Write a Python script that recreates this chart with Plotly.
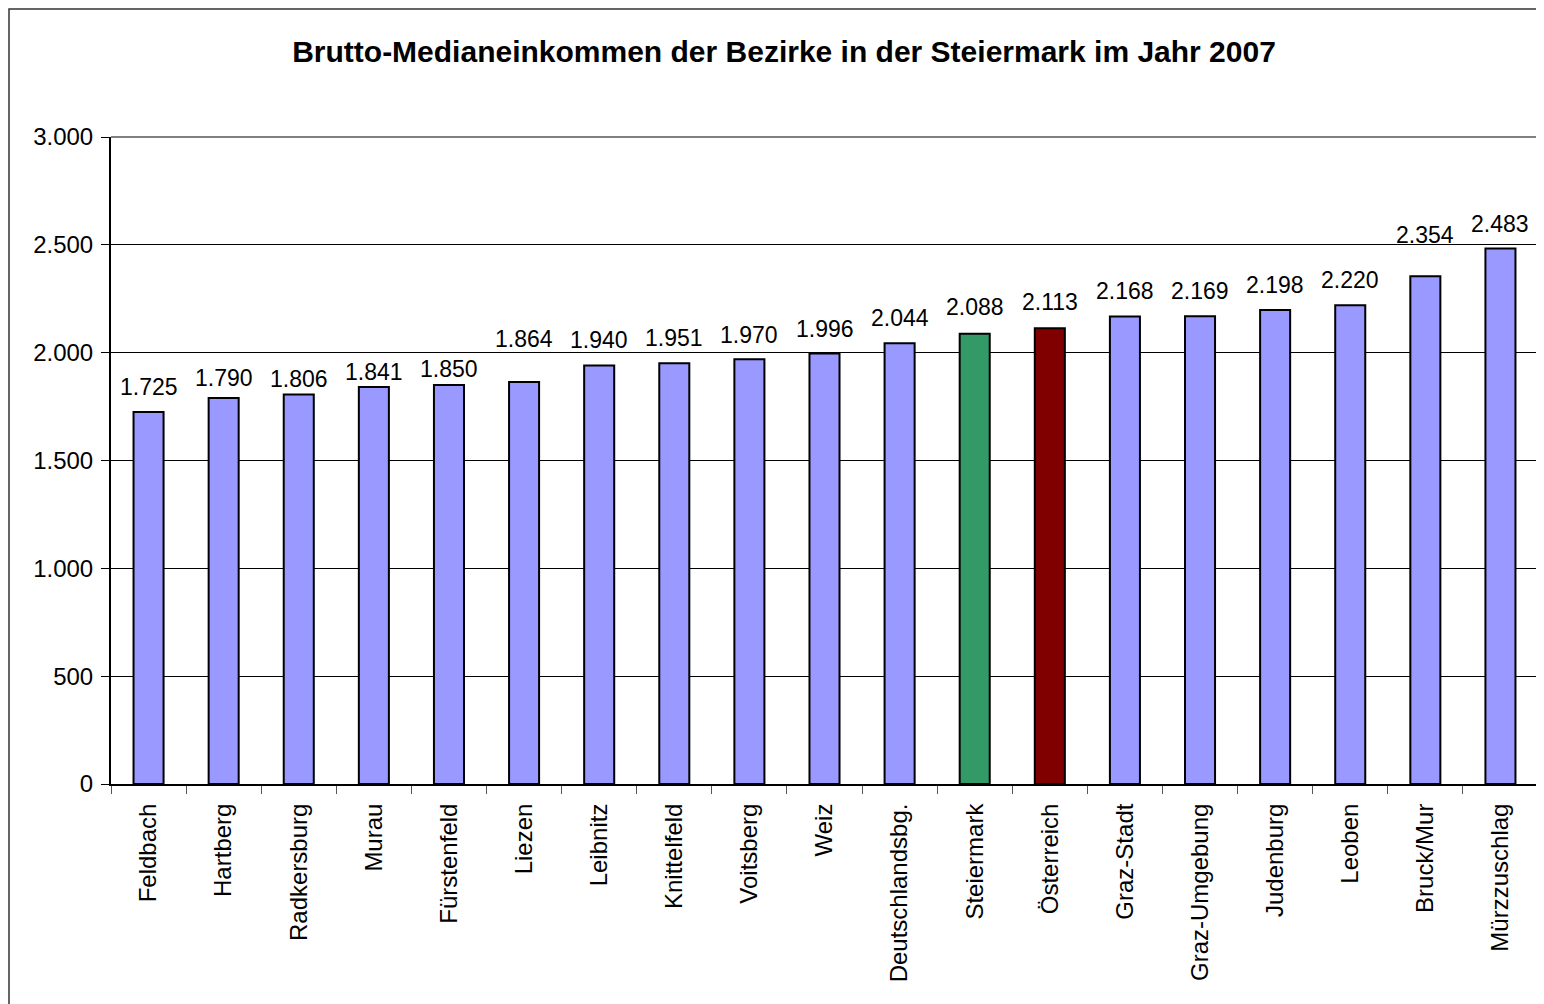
import plotly.graph_objects as go

# Bezirke und Werte (Brutto-Medianeinkommen 2007)
bezirke = ['Feldbach', 'Hartberg', 'Radkersburg', 'Murau', 'Fürstenfeld', 'Liezen',
           'Leibnitz', 'Knittelfeld', 'Voitsberg', 'Weiz', 'Deutschlandsbg.',
           'Steiermark', 'Österreich', 'Graz-Stadt', 'Graz-Umgebung', 'Judenburg',
           'Leoben', 'Bruck/Mur', 'Mürzzuschlag']
einkommen = [1725, 1790, 1806, 1841, 1850, 1864, 1940, 1951, 1970, 1996, 2044,
             2088, 2113, 2168, 2169, 2198, 2220, 2354, 2483]
y_ticks = [0, 500, 1000, 1500, 2000, 2500, 3000]

BAR = '#9999FF'
SPECIAL = {'Steiermark': '#339966', 'Österreich': '#800000'}
colors = [SPECIAL.get(b, BAR) for b in bezirke]

# label offsets above bar top (px), mimicking the Excel placement
label_shift = [25, 20, 16, 15, 16, 43, 26, 25, 24, 25, 25, 27, 26, 25, 25, 25, 25, 41, 25]

FONT = 'Liberation Sans, Arial, sans-serif'

# the page body adds an 8px margin, so the figure is a bit smaller than the window
W, H = 1536, 996
L, R, T, B = 103, 6, 129, 220
PW, PH = W - L - R, H - T - B

fig = go.Figure()
fig.add_bar(
    x=bezirke,
    y=einkommen,
    marker=dict(color=colors, line=dict(color='black', width=2)),
    width=0.4,
    hoverinfo='x+y',
)


def fmt(v):
    return f'{v:,}'.replace(',', '.')


for b, v, s in zip(bezirke, einkommen, label_shift):
    fig.add_annotation(x=b, y=v, text=fmt(v), showarrow=False, yshift=s,
                       yanchor='middle', font=dict(size=23, color='black', family=FONT))

# grey top/right edge of the plot area
fig.add_shape(type='line', xref='paper', yref='paper', x0=0, x1=1, y0=1, y1=1,
              line=dict(color='#808080', width=2), layer='above')
fig.add_shape(type='line', xref='paper', yref='paper', x0=1, x1=1, y0=0, y1=1,
              line=dict(color='#808080', width=2), layer='above')
# outer chart border
fig.add_shape(type='rect', xref='paper', yref='paper',
              x0=(1 - L) / PW, x1=(W + 20 - L) / PW,
              y0=-(B + 20) / PH, y1=(PH + T - 1) / PH,
              line=dict(color='#333333', width=1.5))

fig.update_layout(
    width=W,
    height=H,
    margin=dict(l=L, r=R, t=T, b=B),
    paper_bgcolor='white',
    plot_bgcolor='white',
    separators=',.',
    showlegend=False,
    font=dict(family=FONT, size=24, color='black'),
    title=dict(text='<b>Brutto-Medianeinkommen der Bezirke in der Steiermark im Jahr 2007</b>',
               x=(776 - L) / PW, xref='paper', xanchor='center',
               y=1 - 43 / H, yanchor='middle', font=dict(size=30, family=FONT)),
    xaxis=dict(
        tickangle=-90,
        ticks='outside',
        tickson='boundaries',
        ticklen=8,
        tickcolor='#555555',
        ticklabelstandoff=8,
        showline=True,
        linecolor='black',
        linewidth=2,
        showgrid=False,
        tickfont=dict(size=24),
    ),
    yaxis=dict(
        range=[0, 3000],
        tickvals=y_ticks,
        tickformat=',d',
        ticks='outside',
        ticklen=8,
        tickcolor='black',
        ticklabelstandoff=3,
        showline=True,
        linecolor='black',
        linewidth=2,
        showgrid=True,
        gridcolor='black',
        gridwidth=1,
        zeroline=False,
        tickfont=dict(size=24),
    ),
)

fig.write_html('out.html')
